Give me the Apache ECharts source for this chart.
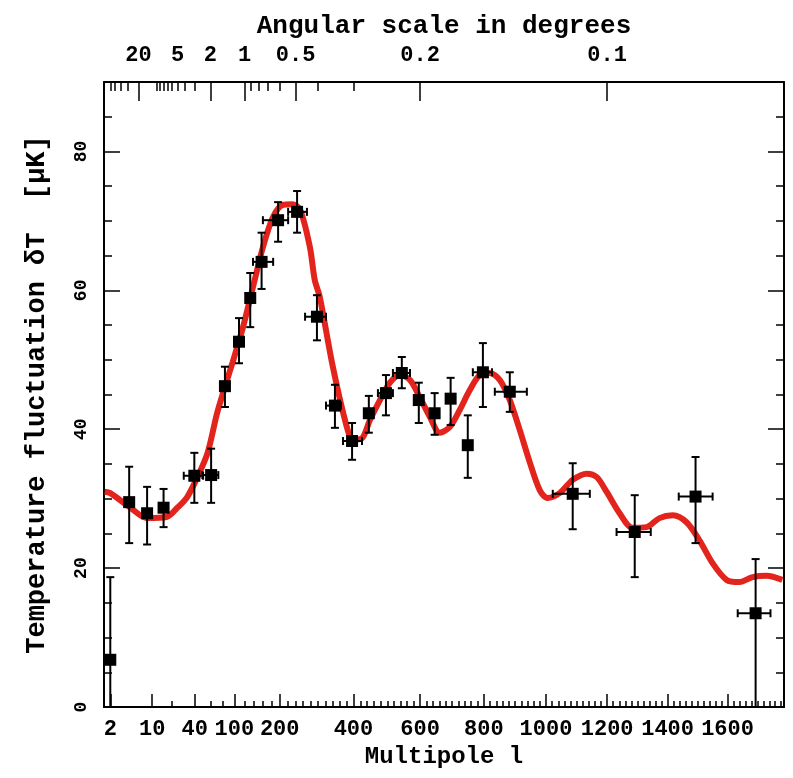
<!DOCTYPE html>
<html>
<head>
<meta charset="utf-8">
<script src="https://cdn.jsdelivr.net/npm/echarts@6/dist/echarts.min.js"></script>
<style>
html, body { margin: 0; padding: 0; background: #fff; }
#chart { width: 793px; height: 778px; }
</style>
</head>
<body>
<div id="chart"></div>
<script>
// multipole axis is log-linear: position = log10(l) + l/200
function lpos(l) { return Math.log10(l) + l / 200; }

// measured band powers
var pointL   = [2, 4.2, 8.3, 15, 39.5, 61, 83, 109, 132, 157, 196, 244, 297, 347, 396, 445, 496, 544, 596, 645, 695, 749, 797, 883, 1087, 1291, 1493, 1694];
var pointT   = [6.8, 29.5, 27.9, 28.7, 33.3, 33.4, 46.2, 52.6, 58.9, 64.1, 70.1, 71.3, 56.2, 43.4, 38.3, 42.3, 45.2, 48.1, 44.2, 42.3, 44.4, 37.7, 48.2, 45.4, 30.7, 25.2, 30.3, 13.5];
var pointTHi = [18.7, 34.6, 31.7, 31.4, 36.6, 37.2, 49.0, 56.0, 62.5, 68.3, 72.7, 74.3, 59.3, 46.4, 40.9, 44.8, 47.8, 50.4, 46.7, 45.2, 47.4, 42.0, 52.4, 48.2, 35.1, 30.5, 36.0, 21.3];
var pointTLo = [0, 23.6, 23.4, 25.9, 29.4, 29.4, 43.2, 49.5, 54.7, 60.2, 67.0, 68.3, 52.8, 40.2, 35.6, 39.5, 42.0, 45.9, 40.9, 39.2, 40.6, 33.0, 43.2, 42.5, 25.6, 18.7, 23.6, 0];
var pointLLo = [null, null, null, null, 29, 49, null, null, null, 138, 160, 221, 265, 322, 370, null, 472, 517, null, null, null, null, 765, 835, 1022, 1231, 1437, 1634];
var pointLHi = [null, null, null, null, 50, 72, null, null, null, 184, 221, 270, 322, 364, 425, null, 517, 569, null, null, null, null, 826, 938, 1143, 1344, 1550, 1744];

// model curve
var curveL = [1.6, 2, 4.4, 8.3, 17, 23.8, 32, 43, 56, 70, 83, 97, 117, 138, 160, 184, 208, 231, 252, 278,
  291, 305, 341, 381, 399, 425, 448, 478, 508, 538, 569, 599, 630, 661, 692, 724, 755, 787, 819, 851,
  883, 915, 947, 980, 1005, 1044, 1087, 1133, 1166, 1198, 1241, 1284, 1330, 1373, 1417, 1463, 1506, 1550, 1597, 1640,
  1684, 1731, 1784];
var curveT = [31.0, 30.8, 28.7, 27.2, 27.4, 28.7, 30.2, 33.1, 36.6, 42.3, 46.1, 49.7, 54.7, 60.5, 66.2, 70.6, 72.3, 72.4, 71.6, 66.2,
  61.5, 59.0, 49.0, 40.3, 38.5, 38.7, 41.3, 44.2, 46.7, 47.8, 47.1, 44.6, 41.8, 39.5, 40.3, 42.8, 45.6, 47.8, 48.1, 47.1,
  44.2, 39.9, 35.3, 31.2, 30.1, 30.8, 32.7, 33.6, 33.1, 31.0, 27.9, 25.8, 25.9, 27.2, 27.6, 26.6, 24.0, 20.7, 18.3, 18.0,
  18.7, 18.9, 18.3];

// ticks
var lLabels = [2, 10, 40, 100, 200, 400, 600, 800, 1000, 1200, 1400, 1600];
var lMinor = [20, 60, 80];
for (var m = 120; m < 1790; m += 20) {
    if (lLabels.indexOf(m) < 0) lMinor.push(m);
}
var degLabels = [20, 5, 2, 1, 0.5, 0.2, 0.1];
var degTall = [20, 2, 1, 0.5, 0.2, 0.1];
var degMinor = [60, 50, 40, 30, 10, 9, 8, 7, 6, 5, 4, 3, 0.9, 0.8, 0.7, 0.6, 0.4, 0.3];
var tLabels = [0, 20, 40, 60, 80];
var tMinor = [5, 10, 15, 25, 30, 35, 45, 50, 55, 65, 70, 75, 85];

function degToL(d) { return 120 / d; }

var font = 'Liberation Mono';
var xMin = 0.2, xMax = 12.2;

function nearestLabel(v, labels, toL) {
    var best = 0, bd = 1e9;
    for (var i = 0; i < labels.length; i++) {
        var d = Math.abs(lpos(toL(labels[i])) - v);
        if (d < bd) { bd = d; best = i; }
    }
    return String(labels[best]);
}

var barData = [];
var sqData = [];
for (var i = 0; i < pointL.length; i++) {
    var lo = pointLLo[i] == null ? NaN : lpos(pointLLo[i]);
    var hi = pointLHi[i] == null ? NaN : lpos(pointLHi[i]);
    barData.push([lpos(pointL[i]), pointT[i], lo, hi, pointTLo[i], pointTHi[i]]);
    sqData.push([lpos(pointL[i]), pointT[i]]);
}
var curveData = curveL.map(function (l, i) { return [lpos(l), curveT[i]]; });

function renderBar(params, api) {
    var x = api.value(0);
    var c = api.coord([x, api.value(1)]);
    var top = api.coord([x, api.value(5)]);
    var bot = api.coord([x, api.value(4)]);
    var cap = 4;
    var st = { stroke: '#000', lineWidth: 2 };
    var kids = [
        { type: 'line', shape: { x1: c[0], y1: top[1], x2: c[0], y2: bot[1] }, style: st },
        { type: 'line', shape: { x1: c[0] - cap, y1: top[1], x2: c[0] + cap, y2: top[1] }, style: st },
        { type: 'line', shape: { x1: c[0] - cap, y1: bot[1], x2: c[0] + cap, y2: bot[1] }, style: st }
    ];
    var ul = api.value(2), uh = api.value(3);
    if (!isNaN(ul) && !isNaN(uh)) {
        var a = api.coord([ul, api.value(1)]);
        var b = api.coord([uh, api.value(1)]);
        kids.push({ type: 'line', shape: { x1: a[0], y1: c[1], x2: b[0], y2: c[1] }, style: st });
        kids.push({ type: 'line', shape: { x1: a[0], y1: c[1] - cap, x2: a[0], y2: c[1] + cap }, style: st });
        kids.push({ type: 'line', shape: { x1: b[0], y1: c[1] - cap, x2: b[0], y2: c[1] + cap }, style: st });
    }
    return { type: 'group', children: kids };
}

var labelStyle = { fontFamily: font, fontWeight: 'bold', fontSize: 22, color: '#000' };
var lineSt = { color: '#000', width: 2 };

function xAx(pos, ticks, len, opts) {
    var ax = {
        type: 'value', position: pos, min: xMin, max: xMax,
        axisLine: { show: false, onZero: false },
        axisTick: { show: true, inside: true, length: len, customValues: ticks, lineStyle: { color: '#000', width: 1.5 } },
        axisLabel: { show: false },
        splitLine: { show: false }
    };
    return Object.assign(ax, opts || {});
}
function yAx(pos, ticks, len, opts) {
    var ax = {
        type: 'value', position: pos, min: 0, max: 90,
        axisLine: { show: false, onZero: false },
        axisTick: { show: true, inside: true, length: len, customValues: ticks, lineStyle: { color: '#000', width: 1.5 } },
        axisLabel: { show: false },
        splitLine: { show: false }
    };
    return Object.assign(ax, opts || {});
}

var lLabelPos = lLabels.map(lpos);
var degLabelPos = degLabels.map(function (d) { return lpos(degToL(d)); });

var myChart = echarts.init(document.getElementById('chart'));
var option = {
    backgroundColor: '#fff',
    animation: false,
    grid: { left: 104, right: 9, top: 82, bottom: 71, outerBoundsMode: 'none' },
    xAxis: [
        xAx('bottom', lLabelPos, 13, {
            axisLine: { show: true, onZero: false, lineStyle: lineSt },
            axisLabel: Object.assign({
                show: true, margin: 11, customValues: lLabelPos,
                formatter: function (v) { return nearestLabel(v, lLabels, function (l) { return l; }); }
            }, labelStyle),
            name: 'Multipole l', nameLocation: 'middle', nameGap: 37,
            nameTextStyle: { fontFamily: font, fontWeight: 'bold', fontSize: 24, color: '#000' }
        }),
        xAx('bottom', lMinor.map(lpos), 6),
        xAx('top', degTall.map(function (d) { return lpos(degToL(d)); }), 19, {
            axisLine: { show: true, onZero: false, lineStyle: lineSt },
            axisLabel: Object.assign({
                show: true, margin: 16, customValues: degLabelPos,
                formatter: function (v) { return nearestLabel(v, degLabels, degToL); }
            }, labelStyle),
            name: 'Angular scale in degrees', nameLocation: 'middle', nameGap: 43,
            nameTextStyle: { fontFamily: font, fontWeight: 'bold', fontSize: 26, color: '#000' }
        }),
        xAx('top', degMinor.map(function (d) { return lpos(degToL(d)); }), 9)
    ],
    yAxis: [
        yAx('left', tLabels, 16, {
            axisLine: { show: true, onZero: false, lineStyle: lineSt },
            axisLabel: { show: true, rotate: 90, margin: 14, customValues: tLabels,
                fontFamily: font, fontWeight: 'bold', fontSize: 18, color: '#000' },
            name: 'Temperature fluctuation \u03b4T  [\u03bcK]', nameLocation: 'middle', nameGap: 53,
            nameTextStyle: { fontFamily: font, fontWeight: 'bold', fontSize: 27, color: '#000' }
        }),
        yAx('left', tMinor, 8),
        yAx('right', tLabels, 16, { axisLine: { show: true, onZero: false, lineStyle: lineSt } }),
        yAx('right', tMinor, 8)
    ],
    series: [
        {
            name: 'model',
            type: 'line',
            smooth: 0.3,
            showSymbol: false,
            data: curveData,
            lineStyle: { color: '#e2241c', width: 6 },
            z: 2
        },
        {
            name: 'errors',
            type: 'custom',
            renderItem: renderBar,
            data: barData,
            encode: { x: 0, y: 1 },
            z: 3
        },
        {
            name: 'data',
            type: 'scatter',
            symbol: 'rect',
            symbolSize: 12,
            data: sqData,
            itemStyle: { color: '#000', opacity: 1 },
            z: 4
        }
    ]
};

if (option && typeof option === 'object') {
    myChart.setOption(option);
}
</script>
</body>
</html>
